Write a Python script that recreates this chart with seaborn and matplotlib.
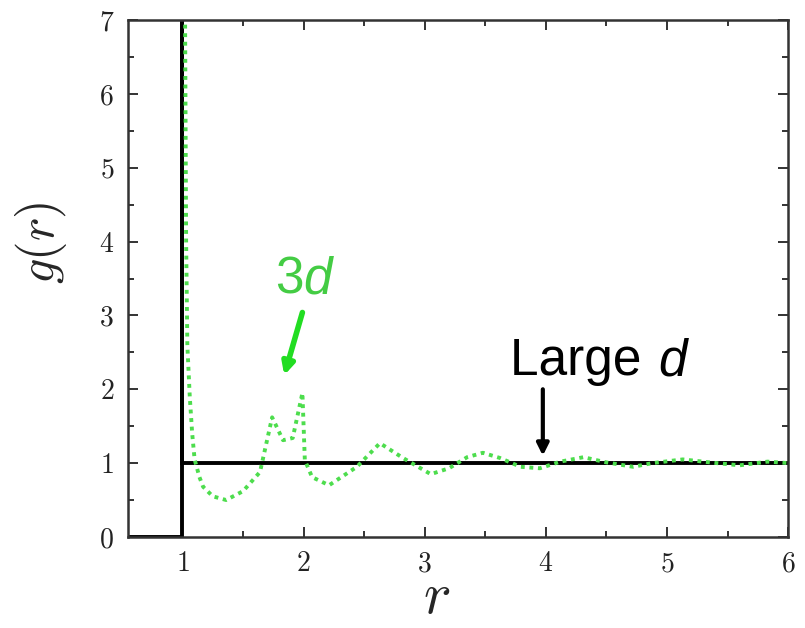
import numpy as np
import pandas as pd
import matplotlib
matplotlib.use('Agg')
import matplotlib.pyplot as plt
import seaborn as sns

sns.set_style('ticks')
plt.rcParams['mathtext.fontset'] = 'cm'
plt.rcParams['font.family'] = ['cmr10', 'DejaVu Serif']
plt.rcParams['axes.formatter.use_mathtext'] = True

# hard-sphere g(r) in 3d
r_3d = [1.02, 1.03, 1.04, 1.06, 1.08, 1.10, 1.14, 1.17, 1.25, 1.36, 1.50, 1.64, 1.74,
        1.83, 1.91, 1.99, 2.01, 2.07, 2.21, 2.44, 2.63, 2.82, 3.05, 3.20, 3.35, 3.48,
        3.62, 3.79, 3.95, 4.12, 4.31, 4.50, 4.72, 4.88, 5.13, 5.41, 5.60, 5.83, 6.00]
g_3d = [7.5, 4.0, 2.6, 1.9, 1.4, 1.05, 0.81, 0.68, 0.55, 0.50, 0.62, 0.88, 1.62,
        1.31, 1.34, 1.95, 1.04, 0.81, 0.70, 0.95, 1.27, 1.07, 0.85, 0.93, 1.08, 1.14,
        1.07, 0.95, 0.93, 1.02, 1.08, 1.01, 0.95, 1.00, 1.05, 1.00, 0.97, 1.02, 1.00]

# large-d limit: step function
r_large = [0.55, 1.0, 1.0, 1.0, 6.0]
g_large = [0.0, 0.0, 7.5, 1.0, 1.0]

x_ticks = [1, 2, 3, 4, 5, 6]
y_ticks = [0, 1, 2, 3, 4, 5, 6, 7]

fig, ax = plt.subplots(figsize=(8.05, 6.28), dpi=100)
fig.subplots_adjust(left=0.159, right=0.979, bottom=0.145, top=0.968)

sns.lineplot(x=r_large, y=g_large, sort=False, estimator=None, color='black',
             lw=2.8, ax=ax, zorder=2)
sns.lineplot(x=r_3d, y=g_3d, sort=False, estimator=None, color='#4ddd4d',
             lw=2.8, linestyle=(0, (1, 1.2)), ax=ax, zorder=3)

ax.set_xlim(0.55, 6)
ax.set_ylim(0, 7)
ax.set_xticks(x_ticks)
ax.set_yticks(y_ticks)
ax.set_xticks(np.arange(1.5, 6, 1), minor=True)
ax.set_yticks(np.arange(0.5, 7, 1), minor=True)
ax.tick_params(which='both', direction='in', top=True, right=True, labelsize=20,
               width=1.4, color='#333333', labelcolor='#222222')
ax.tick_params(which='major', length=7)
ax.tick_params(which='minor', length=4)
ax.tick_params(axis='x', pad=10)
ax.tick_params(axis='y', pad=10)
for s in ax.spines.values():
    s.set_linewidth(1.8)
    s.set_color('#333333')

ax.set_xlabel('$r$', fontsize=42, va='baseline')
ax.set_ylabel('$g(r)$', fontsize=36)
ax.xaxis.set_label_coords(0.468, -0.147)
ax.yaxis.set_label_coords(-0.09, 0.57)

sans = ['Liberation Sans', 'DejaVu Sans']
ax.text(2.0, 3.3, '3', color='#44cc44', fontsize=37, family=sans, ha='right', va='baseline')
ax.text(2.0, 3.3, 'd', color='#44cc44', fontsize=37, family=sans, style='italic',
        ha='left', va='baseline')
ax.annotate('', xy=(1.84, 2.19), xytext=(1.99, 3.04),
            arrowprops=dict(arrowstyle='-|>,head_length=0.7,head_width=0.35',
                            color='#22dd22', lw=4, shrinkA=0, shrinkB=0))

ax.text(3.70, 2.19, 'Large ', color='black', fontsize=37, family=sans, ha='left',
        va='baseline')
ax.text(4.93, 2.19, 'd', color='black', fontsize=37, family=sans, style='italic',
        ha='left', va='baseline')
ax.annotate('', xy=(3.975, 1.1), xytext=(3.975, 2.0),
            arrowprops=dict(arrowstyle='-|>,head_length=0.7,head_width=0.35',
                            color='black', lw=3, shrinkA=0, shrinkB=0))

plt.savefig('out.png', dpi=100)
